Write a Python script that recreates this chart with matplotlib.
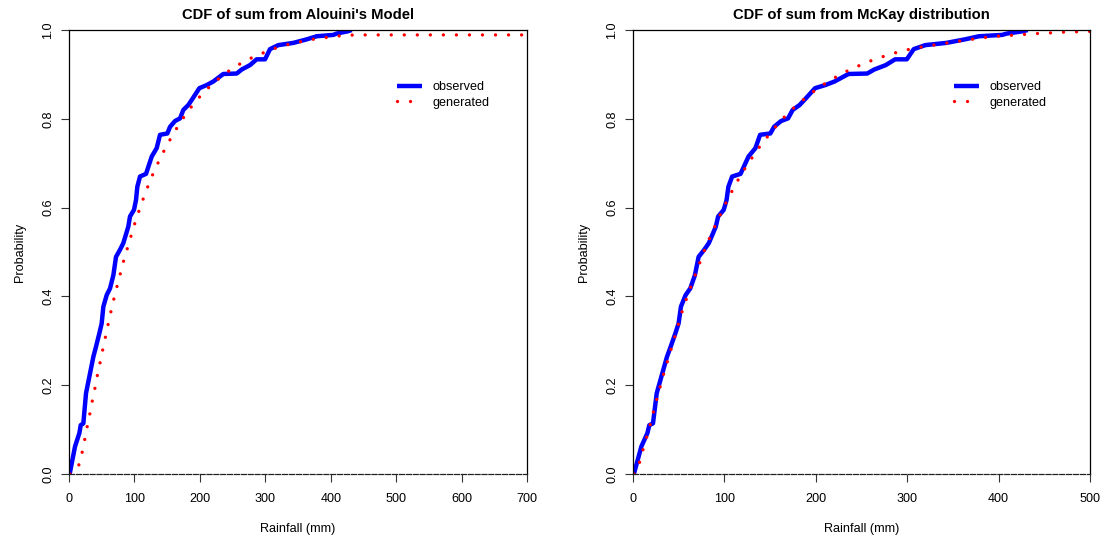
#plot.py draws the CDF of the summed rainfall, observed against generated
#for Alouini's model (left) and the McKay distribution (right)
import matplotlib
matplotlib.use('Agg')
import matplotlib.pyplot as plt

plt.rcParams['font.family'] = ['Liberation Sans', 'DejaVu Sans']

#observed ECDF (rainfall in mm | probability)
obs_x = [1.0, 9.2, 15.8, 17.9, 21.9, 26.0, 33.1, 37.2, 41.3, 46.4,
         49.9, 52.5, 57.6, 62.7, 67.8, 71.8, 77.9, 83.0, 90.6, 93.2,
         99.3, 102.4, 104.4, 108.5, 117.7, 126.4, 134.0, 139.1, 150.3, 154.4,
         162.0, 169.7, 174.7, 182.3, 190.0, 199.2, 210.4, 220.5, 235.8, 256.3,
         263.9, 276.6, 286.8, 299.6, 307.2, 319.9, 342.8, 363.3, 378.6, 404.0,
         409.0, 426.0, 432.0]
obs_p = [0.0, 0.062, 0.092, 0.110, 0.114, 0.182, 0.234, 0.264, 0.287, 0.317,
         0.339, 0.377, 0.403, 0.418, 0.448, 0.489, 0.505, 0.520, 0.557, 0.580,
         0.595, 0.617, 0.647, 0.670, 0.676, 0.715, 0.734, 0.764, 0.767, 0.782,
         0.795, 0.801, 0.820, 0.831, 0.848, 0.869, 0.876, 0.884, 0.901, 0.902,
         0.911, 0.921, 0.934, 0.934, 0.957, 0.966, 0.971, 0.979, 0.986, 0.989,
         0.992, 0.997, 1.0]

#generated from Alouini's model
alouini_x = [1.5, 14.2, 19.4, 23.4, 27.0, 31.0, 34.6, 38.7, 42.3, 46.4,
             50.4, 54.5, 58.6, 62.7, 67.2, 71.8, 76.9, 81.5, 87.1, 92.8,
             98.3, 104.4, 111.0, 117.7, 124.8, 132.9, 141.0, 150.1, 159.9, 170.0,
             181.2, 193.4, 206.6, 221.4, 236.6, 252.4, 269.8, 287.6, 305.9, 324.8,
             343.6, 363.0, 382.2, 402.1, 421.5, 440.9, 700.0]
alouini_p = [0.0, 0.016, 0.044, 0.073, 0.101, 0.129, 0.158, 0.186, 0.215, 0.243,
             0.272, 0.300, 0.329, 0.357, 0.386, 0.414, 0.442, 0.470, 0.498, 0.526,
             0.554, 0.582, 0.610, 0.637, 0.664, 0.691, 0.716, 0.742, 0.767, 0.792,
             0.816, 0.839, 0.861, 0.881, 0.900, 0.916, 0.931, 0.943, 0.954, 0.964,
             0.970, 0.977, 0.981, 0.985, 0.988, 0.989, 0.989]

#generated from the McKay distribution
mckay_x = [1.0, 6.9, 10.6, 14.6, 18.3, 21.9, 25.5, 29.2, 32.8, 36.9,
           40.8, 44.9, 48.9, 52.8, 57.2, 62.0, 66.7, 71.9, 76.9, 82.0,
           87.9, 93.7, 99.6, 106.0, 112.7, 119.6, 127.3, 134.9, 143.7, 152.4,
           161.9, 171.8, 182.4, 192.9, 204.3, 216.3, 228.3, 241.1, 254.2, 267.3,
           280.9, 294.3, 308.2, 322.0, 336.0, 350.0, 363.2, 377.8, 391.7, 406.3,
           420.5, 434.4, 448.6, 462.8, 476.7, 490.9, 500.0]
mckay_p = [0.0, 0.024, 0.052, 0.080, 0.107, 0.136, 0.164, 0.192, 0.220, 0.248,
           0.275, 0.303, 0.332, 0.360, 0.387, 0.414, 0.441, 0.469, 0.497, 0.523,
           0.550, 0.576, 0.602, 0.628, 0.654, 0.679, 0.703, 0.727, 0.751, 0.773,
           0.796, 0.817, 0.836, 0.854, 0.872, 0.887, 0.902, 0.914, 0.926, 0.936,
           0.945, 0.953, 0.959, 0.964, 0.968, 0.973, 0.977, 0.981, 0.985, 0.987,
           0.989, 0.991, 0.993, 0.994, 0.996, 0.996, 0.997]

y_ticks = [0.0, 0.2, 0.4, 0.6, 0.8, 1.0]


#one panel: observed as thick blue line, generated as red dots
def plot_panel(ax, gen_x, gen_p, title, xmax, leg_x):
    ax.plot(obs_x, obs_p, color='#0000ff', lw=3.2, solid_capstyle='butt',
            label='observed')
    ax.plot(gen_x, gen_p, color='#ff0000', lw=2.4, dashes=(0.01, 3.9),
            dash_capstyle='round', label='generated')
    ax.set_xlim(0, xmax)
    ax.set_ylim(0, 1)
    ax.set_xticks(range(0, xmax + 1, 100))
    ax.set_yticks(y_ticks)
    ax.set_yticklabels(['{:.1f}'.format(v) for v in y_ticks],
                       rotation=90, va='center')
    ax.tick_params(labelsize=9.1, length=5.5, width=0.8, color='#333333')
    ax.tick_params(axis='x', pad=8.5)
    ax.tick_params(axis='y', pad=5)
    for s in ax.spines.values():
        s.set_linewidth(0.9)
        s.set_color('black')
    ax.spines['bottom'].set_linestyle((0, (4, 1.5)))
    ax.spines['bottom'].set_color('#222222')
    ax.set_title(title, fontsize=10.6, fontweight='bold', pad=8)
    ax.set_xlabel('Rainfall (mm)', fontsize=9.1, labelpad=13)
    ax.set_ylabel('Probability', fontsize=9.1, labelpad=12)
    ax.legend(loc='upper left', bbox_to_anchor=(leg_x, 0.885),
              frameon=False, fontsize=9.1, handlelength=2.0,
              handletextpad=0.85, labelspacing=0.28, borderpad=0,
              borderaxespad=0)


fig = plt.figure(figsize=(11.06, 5.39), dpi=100)
ax1 = fig.add_axes([0.0624, 0.1206, 0.4141, 0.8237])
ax2 = fig.add_axes([0.5723, 0.1206, 0.4132, 0.8237])
plot_panel(ax1, alouini_x, alouini_p, "CDF of sum from Alouini's Model", 700, 0.716)
plot_panel(ax2, mckay_x, mckay_p, 'CDF of sum from McKay distribution', 500, 0.702)
fig.savefig('out.png', dpi=100)
